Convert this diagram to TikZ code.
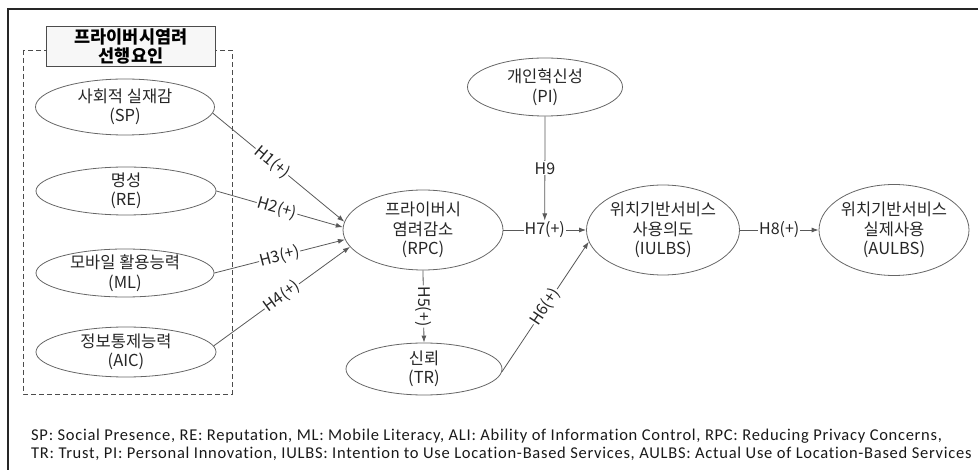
\documentclass[tikz,border=0pt]{standalone}
\usepackage{fontspec}
\setmainfont{Carlito}[LetterSpace=4.4, Ligatures=NoCommon]
\newfontfamily\krfont{Noto Sans CJK KR}
\usetikzlibrary{shapes.geometric, arrows.meta}

\tikzset{
	construct/.style={ellipse, draw=black!60, line width=0.8pt, inner sep=-8pt, align=center,
		text=black!85, font=\krfont\fontsize{16.5}{19.5}\selectfont},
	hypo/.style={draw=black!65, line width=0.8pt, -{Latex[length=7pt,width=5pt]}},
	hlabel/.style={fill=white, inner sep=1pt, text=black!85, font=\krfont\fontsize{16}{18}\selectfont}
}

\begin{document}
\begin{tikzpicture}[x=1pt, y=-1pt]
	\useasboundingbox (0,0) rectangle (978,470);
	\draw[line width=1.5pt, black!85] (978,9) -| (8,470);
	% antecedents
	\draw[dashed, black!70, line width=0.7pt, dash pattern=on 5pt off 3pt] (23,50) rectangle (232,394);
	\node[draw=black!70, fill=gray!6, line width=0.8pt, minimum width=169, minimum height=40, inner sep=0pt,
		align=center, font=\krfont\bfseries\fontsize{17.5}{19}\selectfont] (head) at (131,46) {프라이버시염려\\선행요인};
	\node[construct, minimum width=179, minimum height=56] (sp) at (125,107) {사회적 실재감\\(SP)};
	\node[construct, minimum width=180, minimum height=48] (re) at (126,191) {명성\\(RE)};
	\node[construct, minimum width=178, minimum height=48] (ml) at (125,273) {모바일 활용능력\\(ML)};
	\node[construct, minimum width=180, minimum height=50] (aic) at (126,352) {정보통제능력\\(AIC)};
	% model
	\node[construct, minimum width=160, minimum height=80] (rpc) at (423,230) {프라이버시\\염려감소\\(RPC)};
	\node[construct, minimum width=156, minimum height=52] (tr) at (424,369) {신뢰\\(TR)};
	\node[construct, minimum width=155, minimum height=58] (pi) at (545,87) {개인혁신성\\(PI)};
	\node[construct, minimum width=153, minimum height=90] (iulbs) at (663,230) {위치기반서비스\\사용의도\\(IULBS)};
	\node[construct, minimum width=150, minimum height=91] (aulbs) at (894,230) {위치기반서비스\\실제사용\\(AULBS)};

	\draw[hypo] (sp.-4) -- node[hlabel, sloped, pos=0.45] {H1(+)} (rpc.174);
	\draw[hypo] (re.east) -- node[hlabel, sloped, pos=0.48] {H2(+)} (rpc.178);
	\draw[hypo] (ml.east) -- node[hlabel, sloped, pos=0.5] {H3(+)} (rpc.187);
	\draw[hypo] (aic.4) -- node[hlabel, sloped, pos=0.5] {H4(+)} (rpc.193);
	\draw[hypo] (rpc.south) -- node[hlabel, sloped] {H5(+)} (tr.north);
	\draw[hypo] (tr.-2) -- node[hlabel, sloped, pos=0.5] {H6(+)} (iulbs.189);
	\draw[hypo] (rpc.east) -- node[hlabel] (h7) {H7(+)} (iulbs.west);
	\draw[hypo] (iulbs.east) -- node[hlabel] {H8(+)} (aulbs.west);
	\draw[hypo] (pi.south) -- node[hlabel] {H9} (h7.north);

	\node[anchor=west, align=left, inner sep=0pt, text=black!90, font=\fontsize{16.5}{18}\selectfont] (note) at (31,445)
		{SP: Social Presence, RE: Reputation, ML: Mobile Literacy, ALI: Ability of Information Control, RPC: Reducing Privacy Concerns,\\
		TR: Trust, PI: Personal Innovation, IULBS: Intention to Use Location-Based Services, AULBS: Actual Use of Location-Based Services};
\end{tikzpicture}
\end{document}
